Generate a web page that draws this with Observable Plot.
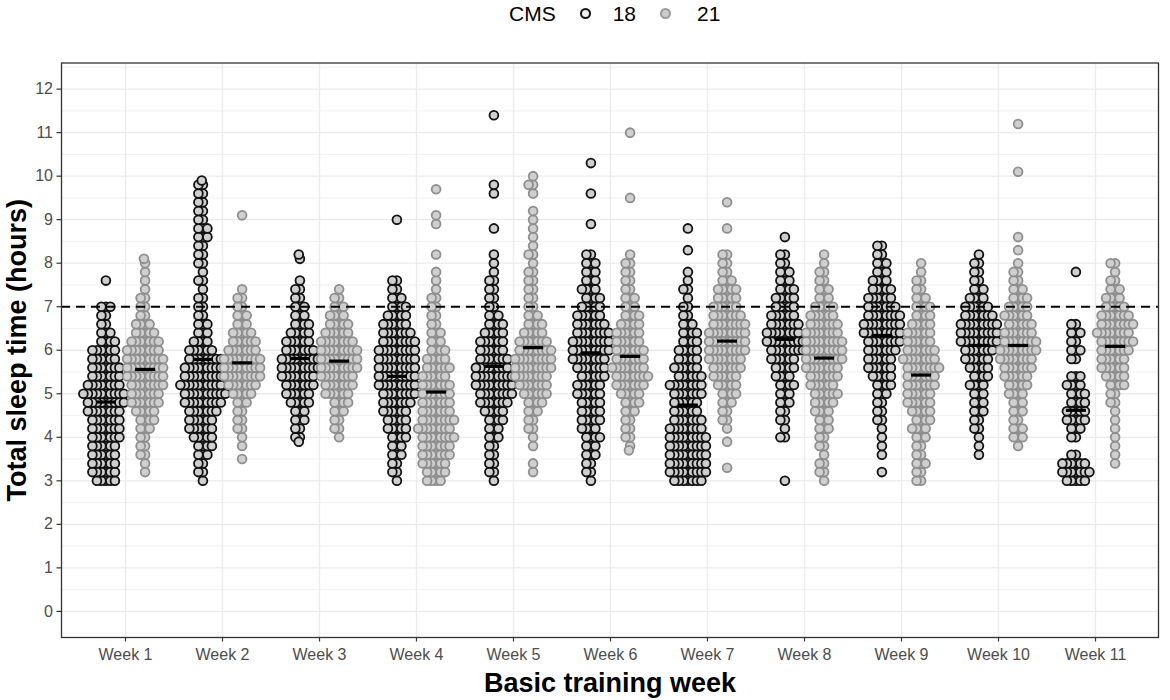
<!DOCTYPE html>
<html>
<head>
<meta charset="utf-8">
<script src="https://cdn.jsdelivr.net/npm/d3@7"></script>
<script src="https://cdn.jsdelivr.net/npm/@observablehq/plot@0.6"></script>
<style>
  body { margin: 0; background: white; font-family: "Liberation Sans", Arial, sans-serif; overflow: hidden; }
  #wrap { width: 1170px; }
  #legend { position: relative; height: 30px; width: 1170px; }
  #legend .items { position: absolute; left: 509px; top: 0; height: 27px; display: flex; align-items: center; font-size: 21px; color: #000; }
  #legend svg { display: block; }
  #chart { position: relative; width: 1170px; height: 670px; overflow: hidden; }
  #chart > svg { position: absolute; top: 0; margin: 0; max-width: none; }
</style>
</head>
<body>
<div id="wrap">
  <div id="legend">
    <div class="items">
      <span style="margin-right:23px">CMS</span>
      <svg width="13" height="13" style="margin-right:21px"><circle cx="6.5" cy="6.5" r="4.5" fill="#eeeeee" stroke="#111" stroke-width="2"></circle></svg>
      <span style="margin-right:23px">18</span>
      <svg width="13" height="13" style="margin-right:25px"><circle cx="6.5" cy="6.5" r="4.5" fill="#cccccc" stroke="#999" stroke-width="2"></circle></svg>
      <span>21</span>
    </div>
  </div>
  <div id="chart"></div>
</div>
<script>
// ---------- data ----------
const weeks = ["Week 1", "Week 2", "Week 3", "Week 4", "Week 5", "Week 6", "Week 7", "Week 8", "Week 9", "Week 10", "Week 11"];
const cmsLevels = ["18", "21"];
const yTicks = [0, 1, 2, 3, 4, 5, 6, 7, 8, 9, 10, 11, 12];
const yMinor = [-0.5, 0.5, 1.5, 2.5, 3.5, 4.5, 5.5, 6.5, 7.5, 8.5, 9.5, 10.5, 11.5, 12.5];
const threshold = [7];

// sleep-time bins (hours); counts below give the number of soldiers in each bin
const bins = [3.0, 3.2, 3.4, 3.6, 3.8, 4.0, 4.2, 4.4, 4.6, 4.8, 5.0, 5.2, 5.4, 5.6, 5.8, 6.0, 6.2, 6.4, 6.6, 6.8,
              7.0, 7.2, 7.4, 7.6, 7.8, 8.0, 8.2, 8.4, 8.6, 8.8, 9.0, 9.2, 9.4, 9.6, 9.8, 10.0];

const counts18 = [
  [5,6,6,6,6,7,7,7,8,9,10,8,7,7,6,6,4,3,2,2,3],
  [1,2,2,3,4,5,6,6,7,9,10,10,9,9,8,6,4,3,3,2,2,2,1,2,1,2,2,2,3,3,2,2,2,2,2],
  [0,0,0,0,0,2,2,3,3,5,6,7,8,9,9,7,6,5,4,3,3,2,2,1],
  [1,2,2,3,3,4,5,5,6,7,8,9,9,9,9,9,8,7,6,5,4,3,2,2],
  [1,2,2,2,2,3,3,4,5,7,8,9,9,8,7,6,6,5,4,3,2,2,2,2,1,1,1],
  [1,2,2,3,3,4,4,5,5,5,6,6,6,7,8,9,9,8,7,6,5,4,4,3,3,3,2],
  [7,9,9,9,9,9,8,7,6,6,7,8,6,6,5,5,4,4,3,2,2,1,2,1],
  [1,0,0,0,0,2,1,2,2,3,3,4,4,5,6,8,9,8,7,6,5,5,4,3,3,2,2,0,1],
  [0,1,0,1,1,1,1,2,2,2,3,4,5,6,6,7,8,9,9,8,7,6,5,4,3,3,2,2],
  [0,0,0,1,1,1,2,2,3,3,3,4,4,5,6,7,9,9,9,7,6,4,3,2,2,2,1],
  [5,7,6,2,0,2,3,5,5,4,4,4,3,0,2,3,2,3,2]
];
const counts21 = [
  [0,1,1,2,2,2,3,4,5,7,7,8,9,9,9,8,7,5,4,2,2,2,1,1,1,1],
  [0,0,0,0,1,1,2,2,2,3,5,7,9,9,9,7,6,5,3,3,2,2,1],
  [0,0,0,0,0,1,2,2,3,4,6,7,8,9,9,9,8,6,5,4,3,2,1],
  [4,5,6,7,7,8,8,8,7,7,7,7,6,6,5,4,3,3,2,2,2,2,1,1,1,0,1],
  [0,1,1,0,1,1,2,2,3,4,6,7,8,9,9,8,7,5,4,3,2,2,2,2,2,1,2,1,1,1,1,1,0,1,2,1],
  [0,0,0,0,1,2,2,2,3,4,5,7,8,8,7,7,6,6,5,4,3,3,2,2,2,2,1],
  [0,0,0,0,0,0,1,2,2,3,4,5,6,7,8,9,9,9,8,7,6,5,5,3,2,2,2],
  [1,2,2,1,2,2,3,3,4,5,6,6,7,8,9,9,9,8,7,6,5,3,3,2,2,1,1],
  [2,2,3,2,2,3,4,4,5,6,6,7,7,8,8,7,6,6,5,4,4,3,2,2,1,1],
  [0,0,0,0,1,3,3,2,3,3,4,5,6,7,8,9,8,7,6,6,5,4,3,2,2,1],
  [0,0,1,1,1,1,1,1,1,2,2,4,5,6,6,7,8,8,8,7,5,4,3,2,1,2]
];
// individual values outside the bins
const extras18 = [[7.6], [9.9], [3.9, 8.1, 8.2], [9.0], [8.8, 9.6, 9.8, 11.4], [8.9, 9.6, 10.3], [7.8, 8.3, 8.8], [], [], [], [7.8]];
const extras21 = [[8.1], [3.5, 9.1], [], [8.9, 9.1, 9.7], [], [3.7, 9.5, 11.0], [3.3, 3.9, 8.8, 9.4], [], [], [8.3, 8.6, 10.1, 11.2], []];

// medians (horizontal black bars)
const median18 = [4.81, 5.79, 5.81, 5.40, 5.63, 5.94, 4.74, 6.25, 6.34, 6.11, 4.62];
const median21 = [5.56, 5.71, 5.75, 5.04, 6.06, 5.86, 6.21, 5.82, 5.43, 6.11, 6.09];

// ---------- tables built from the arrays ----------
function expand(countsList, extrasList, cms) {
  const rows = [];
  weeks.forEach((week, w) => {
    countsList[w].forEach((n, i) => { for (let k = 0; k < n; ++k) rows.push({week, cms, value: bins[i]}); });
    extrasList[w].forEach(v => rows.push({week, cms, value: v}));
  });
  return rows;
}
const pts18 = expand(counts18, extras18, cmsLevels[0]);
const pts21 = expand(counts21, extras21, cmsLevels[1]);
const med18 = weeks.map((week, i) => ({week, cms: cmsLevels[0], median: median18[i]}));
const med21 = weeks.map((week, i) => ({week, cms: cmsLevels[1], median: median21[i]}));

// ---------- shared layout ----------
const font = "'Liberation Sans', Arial, sans-serif";
const yDomain = [-0.6, 12.6];
const layerStyle = {background: "transparent", fontFamily: font, overflow: "visible"};
const full = {width: 1170, height: 670, marginLeft: 61, marginRight: 12, marginTop: 32.5, marginBottom: 63};
// the swarm layer uses symmetric margins and is shifted so its panel matches the full layer's panel
const shiftX = 49;
const sym = {width: 1170 - shiftX, height: 670, marginLeft: 12, marginRight: 12, marginTop: 32.5, marginBottom: 63};

// median bar symbol (a short horizontal bar)
const medianBar = {draw(ctx) { ctx.moveTo(-10, -1.6); ctx.lineTo(10, -1.6); ctx.lineTo(10, 1.6); ctx.lineTo(-10, 1.6); ctx.closePath(); }};

// background layer: grid, axes, titles
const backLayer = Plot.plot({
  ...full,
  style: {...layerStyle, background: "white"},
  x: {type: "point", domain: weeks, padding: 0.6, label: null},
  y: {domain: yDomain, label: null},
  marks: [
    Plot.ruleY(yMinor, {stroke: "#ebebeb", strokeWidth: 0.7}),
    Plot.ruleY(yTicks, {stroke: "#ebebeb", strokeWidth: 1.3}),
    Plot.ruleX(weeks, {stroke: "#ebebeb", strokeWidth: 1.3}),
    Plot.axisY({ticks: yTicks, tickSize: 4.5, tickPadding: 4, fontSize: 16, stroke: "#333", fill: "#4d4d4d", strokeWidth: 1.2, label: null}),
    Plot.axisX({tickSize: 4.5, tickPadding: 7, fontSize: 16, stroke: "#333", fill: "#4d4d4d", strokeWidth: 1.2, label: null}),
    Plot.text(["Total sleep time (hours)"], {text: d => d, frameAnchor: "left", textAnchor: "middle", lineAnchor: "middle", rotate: -90, dx: -44, fontSize: 27, fontWeight: "bold", fill: "black"}),
    Plot.text(["Basic training week"], {text: d => d, frameAnchor: "bottom", textAnchor: "middle", lineAnchor: "middle", dy: 46, fontSize: 27, fontWeight: "bold", fill: "black"})
  ]
});

// middle layer: beeswarms and medians, faceted by week
const dotStyle = {fx: "week", y: "value", r: 4.4, fill: "#cfcfcf", strokeWidth: 1.8};
const swarmLayer = Plot.plot({
  ...sym,
  style: layerStyle,
  fx: {domain: weeks, paddingInner: 0.2, paddingOuter: 0.2, axis: null, label: null},
  y: {domain: yDomain, axis: null},
  marks: [
    Plot.dot(pts18, Plot.dodgeX({anchor: "middle", padding: -4.3}, {...dotStyle, stroke: "#111", dx: -19.6})),
    Plot.dot(pts21, Plot.dodgeX({anchor: "middle", padding: -4.3}, {...dotStyle, stroke: "#8e8e8e", dx: 19.6})),
    Plot.dot(med18, Plot.dodgeX({anchor: "middle"}, {fx: "week", y: "median", r: 1, symbol: medianBar, fill: "black", stroke: "none", dx: -19.6})),
    Plot.dot(med21, Plot.dodgeX({anchor: "middle"}, {fx: "week", y: "median", r: 1, symbol: medianBar, fill: "black", stroke: "none", dx: 19.6}))
  ]
});
swarmLayer.style.left = shiftX + "px";

// top layer: dashed 7-hour reference line and panel border
const lineLayer = Plot.plot({
  ...full,
  style: layerStyle,
  y: {domain: yDomain, axis: null},
  marks: [
    Plot.ruleY(threshold, {stroke: "black", strokeWidth: 2, strokeDasharray: "9,6"}),
    Plot.frame({stroke: "#333", strokeWidth: 1.3})
  ]
});
backLayer.style.left = "0px";
lineLayer.style.left = "0px";

document.getElementById("chart").append(backLayer, swarmLayer, lineLayer);
</script>
</body>
</html>
